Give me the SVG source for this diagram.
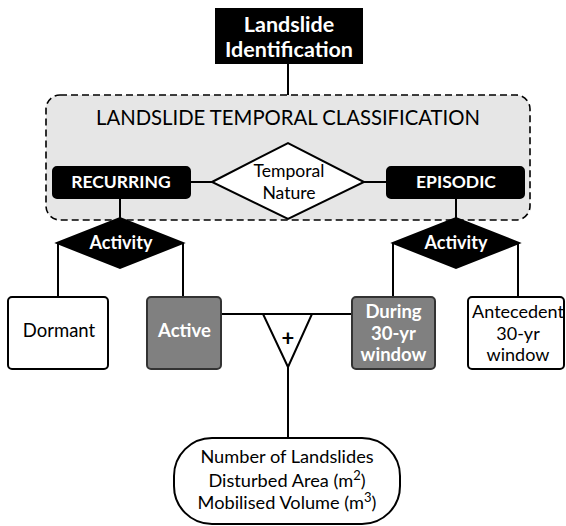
<svg xmlns="http://www.w3.org/2000/svg" width="566" height="526" viewBox="0 0 566 526">
<style>
text{font-family:"Lato","Noto Sans","Liberation Sans",sans-serif;text-anchor:middle}
.ln{stroke:#000;stroke-width:2;fill:none}
.blk{fill:#000;stroke:#000;stroke-width:2}
.wt{fill:#fff;stroke:#000;stroke-width:2}
.gr{fill:#808080;stroke:#333;stroke-width:2}
.tw{fill:#fff;font-weight:bold}
.tb{fill:#000}
</style>
<rect width="566" height="526" fill="#fff"/>
<g id="classification">
<rect x="46" y="95" width="484" height="125" rx="14" fill="#e6e6e6" stroke="#000" stroke-width="1.6" stroke-dasharray="7,4"/>
<text x="288" y="125" class="tb" font-size="20.3">LANDSLIDE TEMPORAL CLASSIFICATION</text>
</g>
<g id="connectors">
<line class="ln" x1="288" y1="64" x2="288" y2="95"/>
<line class="ln" x1="190" y1="182" x2="212" y2="182"/>
<line class="ln" x1="364" y1="182" x2="387" y2="182"/>
<line class="ln" x1="120" y1="198" x2="120" y2="218"/>
<line class="ln" x1="456" y1="198" x2="456" y2="218"/>
<line class="ln" x1="58" y1="243" x2="58" y2="297"/>
<line class="ln" x1="183" y1="243" x2="183" y2="297"/>
<line class="ln" x1="393" y1="243" x2="393" y2="297"/>
<line class="ln" x1="518" y1="243" x2="518" y2="297"/>
<line class="ln" x1="221" y1="314" x2="352" y2="314"/>
<line class="ln" x1="288" y1="367" x2="288" y2="438"/>
</g>
<g id="identification">
<rect x="216" y="9" width="146" height="54" class="blk"/>
<text x="289" y="32" class="tw" font-size="21.5">Landslide</text>
<text x="289" y="57" class="tw" font-size="21.5">Identification</text>
</g>
<g id="temporal-nature">
<polygon points="212,182 288,143 364,182 288,219" class="wt"/>
<text x="289" y="177" class="tb" font-size="17.6">Temporal</text>
<text x="289" y="199" class="tb" font-size="17.6">Nature</text>
</g>
<g id="recurring">
<rect x="53" y="167" width="137" height="31" rx="4" class="blk"/>
<text x="121" y="188" class="tw" font-size="17.5">RECURRING</text>
</g>
<g id="episodic">
<rect x="387" y="167" width="137" height="31" rx="4" class="blk"/>
<text x="456" y="188" class="tw" font-size="17.5">EPISODIC</text>
</g>
<g id="activity-left">
<polygon points="57,243 120,218 183,243 120,268" class="blk"/>
<text x="121" y="249" class="tw" font-size="18">Activity</text>
</g>
<g id="activity-right">
<polygon points="393,243 456,218 519,243 456,268" class="blk"/>
<text x="456" y="249" class="tw" font-size="18">Activity</text>
</g>
<g id="dormant">
<rect x="8" y="297" width="100" height="72" rx="4" class="wt"/>
<text x="59" y="337" class="tb" font-size="18.5">Dormant</text>
</g>
<g id="active">
<rect x="147" y="297" width="74" height="72" rx="4" class="gr"/>
<text x="184.5" y="337" class="tw" font-size="18.5">Active</text>
</g>
<g id="during">
<rect x="352" y="297" width="83" height="72" rx="4" class="gr"/>
<text x="393.5" y="318" class="tw" font-size="18.5">During</text>
<text x="393.5" y="340" class="tw" font-size="18.5">30-yr</text>
<text x="393.5" y="361" class="tw" font-size="18.5">window</text>
</g>
<g id="antecedent">
<rect x="468" y="297" width="96" height="72" rx="4" class="wt"/>
<text x="518" y="318" class="tb" font-size="18">Antecedent</text>
<text x="518" y="340" class="tb" font-size="18">30-yr</text>
<text x="518" y="361" class="tb" font-size="18">window</text>
</g>
<g id="sum">
<polygon points="263,314 312,314 288,367" class="wt"/>
<text x="288" y="346" class="tb" font-size="22" font-weight="bold">+</text>
</g>
<g id="measures">
<rect x="174" y="438" width="226" height="86" rx="38" class="wt"/>
<text x="287" y="463" class="tb" font-size="18.2">Number of Landslides</text>
<text x="287" y="487" class="tb" font-size="18.2">Disturbed Area (m<tspan dy="-7" font-size="13">2</tspan><tspan dy="7">)</tspan></text>
<text x="287" y="509" class="tb" font-size="18.2">Mobilised Volume (m<tspan dy="-7" font-size="13">3</tspan><tspan dy="7">)</tspan></text>
</g>
</svg>
